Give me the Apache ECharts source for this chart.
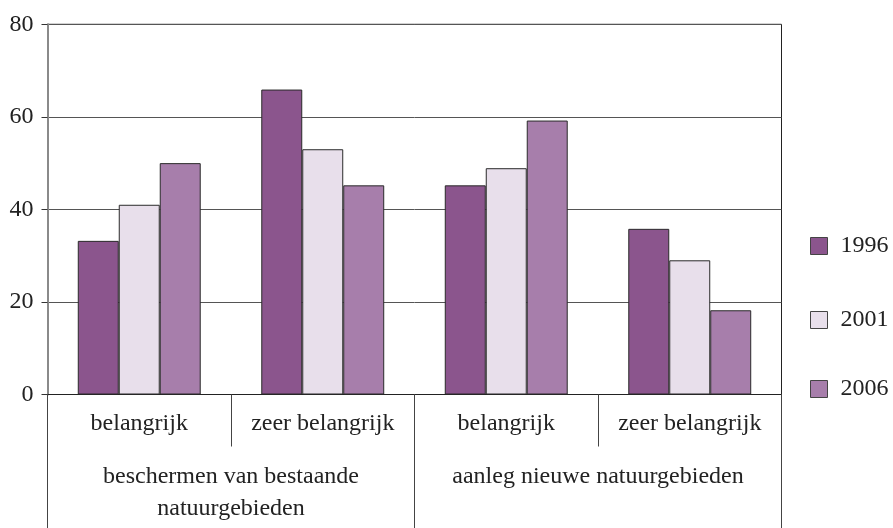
<!DOCTYPE html>
<html>
<head>
<meta charset="utf-8">
<script src="https://cdn.jsdelivr.net/npm/echarts@6/dist/echarts.min.js"></script>
<style>
  html, body { margin: 0; padding: 0; background: #fff; }
  #barCharts { width: 893px; height: 528px; }
</style>
</head>
<body>
<div id="barCharts"></div>
<script>
  // data
  var subCategories = ['belangrijk', 'zeer belangrijk', 'belangrijk', 'zeer belangrijk'];
  var mainCategories = ['beschermen van bestaande\nnatuurgebieden', 'aanleg nieuwe natuurgebieden'];
  var years = ['1996', '2001', '2006'];
  var values1996 = [33.2, 65.9, 45.2, 35.8];
  var values2001 = [41.0, 53.0, 48.9, 29.0];
  var values2006 = [50.0, 45.2, 59.2, 18.2];
  var yTicks = [0, 20, 40, 60, 80];

  var colors = ['#8b558d', '#e8dfeb', '#a77eab'];
  var font = 'Liberation Serif';

  var barCharts = echarts.init(document.getElementById('barCharts'));

  function makeSeries(name, data, i) {
    return {
      name: name,
      type: 'bar',
      xAxisIndex: 0,
      barGap: '0%',
      barCategoryGap: '33%',
      data: data,
      itemStyle: {
        color: colors[i],
        borderColor: '#2a2a2a',
        borderWidth: 1
      }
    };
  }

  function makeLegend(name, top) {
    return {
      data: [name],
      left: 805,
      top: top,
      orient: 'vertical',
      icon: 'rect',
      itemWidth: 17,
      itemHeight: 17,
      itemStyle: { borderColor: '#444', borderWidth: 1 },
      textStyle: {
        fontFamily: font,
        fontSize: 24,
        lineHeight: 24,
        color: '#222',
        padding: [0, 0, 0, 8]
      },
      selectedMode: false
    };
  }

  var option = {
    animation: false,
    grid: {
      left: 47.5,
      right: 111.5,
      top: 24.3,
      bottom: 133.5,
      show: true,
      borderColor: '#222',
      borderWidth: 1
    },
    legend: [
      makeLegend(years[0], 229),
      makeLegend(years[1], 303),
      makeLegend(years[2], 372)
    ],
    xAxis: [
      {
        type: 'category',
        data: subCategories,
        position: 'bottom',
        axisLine: { show: true, lineStyle: { color: '#222', width: 1 } },
        axisTick: { show: true, length: 52, lineStyle: { color: '#444' } },
        axisLabel: {
          interval: 0,
          margin: 17,
          fontFamily: font,
          fontSize: 24,
          color: '#222'
        }
      },
      {
        type: 'category',
        data: mainCategories,
        position: 'bottom',
        axisLine: { show: false },
        axisTick: { show: true, length: 134, interval: 0, lineStyle: { color: '#444' } },
        axisLabel: {
          interval: 0,
          margin: 66,
          fontFamily: font,
          fontSize: 24,
          lineHeight: 32,
          verticalAlign: 'top',
          color: '#222'
        }
      }
    ],
    yAxis: {
      type: 'value',
      min: yTicks[0],
      max: yTicks[yTicks.length - 1],
      interval: 20,
      axisLine: { show: true, lineStyle: { color: '#8a8a8a', width: 2 } },
      axisTick: { show: true, length: 6, lineStyle: { color: '#333' } },
      axisLabel: {
        margin: 14,
        fontFamily: font,
        fontSize: 24,
        color: '#222'
      },
      splitLine: { show: true, lineStyle: { color: '#555', width: 1 } }
    },
    series: [
      makeSeries(years[0], values1996, 0),
      makeSeries(years[1], values2001, 1),
      makeSeries(years[2], values2006, 2)
    ]
  };
  barCharts.setOption(option);
</script>
</body>
</html>
